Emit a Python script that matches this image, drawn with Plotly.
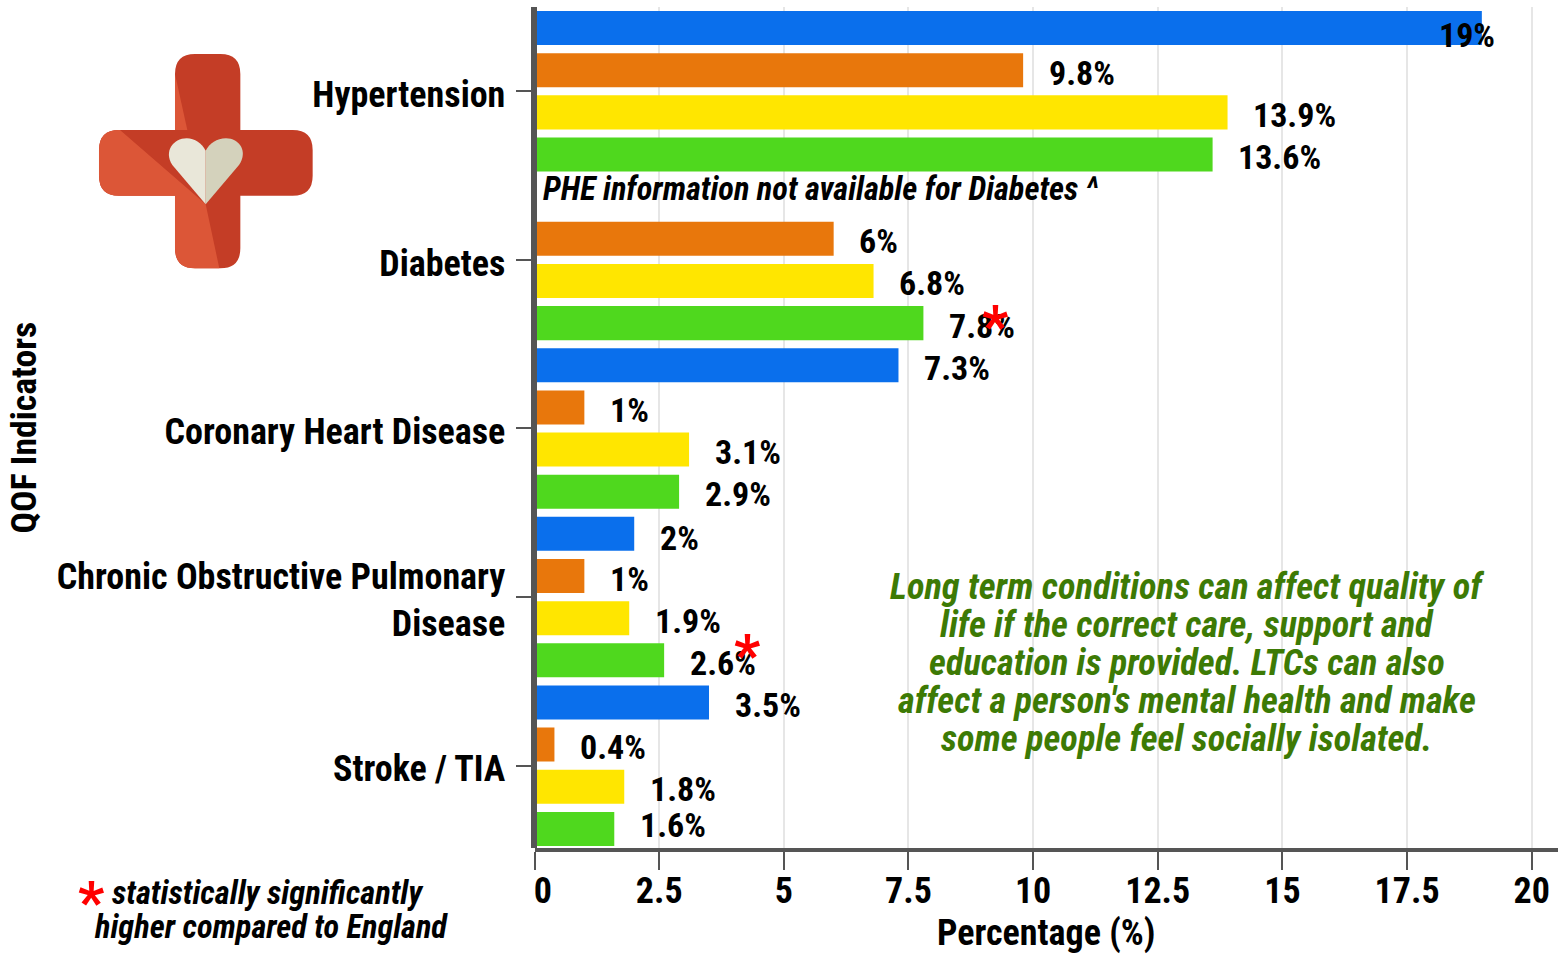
import plotly.graph_objects as go

W, H = 1558, 955
FONT = "Roboto Condensed, Liberation Sans Narrow, Roboto, sans-serif"

categories = ["Hypertension", "Diabetes", "Coronary Heart Disease",
              "Chronic Obstructive Pulmonary<br>Disease", "Stroke / TIA"]
blue_values = [19, None, 7.3, 2, 3.5]
orange_values = [9.8, 6, 1, 1, 0.4]
yellow_values = [13.9, 6.8, 3.1, 1.9, 1.8]
green_values = [13.6, 7.8, 2.9, 2.6, 1.6]
x_ticks = [0, 2.5, 5, 7.5, 10, 12.5, 15, 17.5, 20]
x_tick_labels = ["\u00a0\u00a00", "2.5", "5", "7.5", "10", "12.5", "15", "17.5", "20"]
note_lines = ["Long term conditions can affect quality of", "life if the correct care, support and",
              "education is provided. LTCs can also", "affect a person's mental health and make",
              "some people feel socially isolated."]

series = [("Blue", blue_values, "#0a6fec"), ("Orange", orange_values, "#e8770c"),
          ("Yellow", yellow_values, "#ffe600"), ("Green", green_values, "#4fd81e")]
SLOT = 42.15
LABEL_NUDGE = {("Blue", "Hypertension"): 4, ("Blue", "Chronic Obstructive Pulmonary<br>Disease"): 2,
               ("Green", "Stroke / TIA"): -6}

fig = go.Figure()
for name, vals, col in series:
    fig.add_trace(go.Bar(y=categories, x=vals, name=name, orientation="h",
                         marker=dict(color=col, line=dict(width=0)), showlegend=False))

anns = []
for i, (name, vals, col) in enumerate(series):
    for cat, v in zip(categories, vals):
        if v is None:
            continue
        nudge = LABEL_NUDGE.get((name, cat), 0)
        anns.append(dict(x=v, y=cat, xref="x", yref="y", text=f"<b>{v:g}%</b>", showarrow=False,
                         xanchor="left", yanchor="middle", xshift=-45 if v >= 19 else 23.5,
                         yshift=-(i - 1.5) * SLOT - 2.5 - nudge,
                         font=dict(family=FONT, size=34, color="#000")))

def px(x, y, text, size, color="#000", italic=False, anchor="center"):
    t = f"<b>{text}</b>"
    if italic:
        t = f"<i>{t}</i>"
    anns.append(dict(x=x / W, y=1 - y / H, xref="paper", yref="paper", text=t, showarrow=False, xanchor=anchor,
                     yanchor="middle", font=dict(family=FONT, size=size, color=color), align="center"))

px(541, 189, "PHE information not available for Diabetes ^", 32.4, italic=True, anchor="left")
for k, line in enumerate(note_lines):
    px(1186.5, 586 + 38 * k, line, 36.4, color="#3d7a05", italic=True)
px(110, 893, "statistically significantly", 32.5, italic=True, anchor="left")
px(92, 927, "higher compared to England", 32.4, italic=True, anchor="left")
px(995, 326, "*", 58, color="#ff0000")
px(747, 655, "*", 58, color="#ff0000")
px(91, 902, "*", 58, color="#ff0000")

def lz(zx, zy):
    return f"{(60 + zx / 3) / W:.5f},{1 - (30 + zy / 3) / H:.5f}"

def path(parts):
    out = []
    for cmd, *pts in parts:
        out.append(cmd + " ".join(lz(*p) for p in pts))
    return " ".join(out) + " Z"

cross = path([("M", (405, 72)), ("L", (481, 72)), ("Q", (541, 72), (541, 132)), ("L", (541, 300)),
              ("L", (698, 300)), ("Q", (758, 300), (758, 360)), ("L", (758, 437)), ("Q", (758, 497), (698, 497)),
              ("L", (541, 497)), ("L", (541, 655)), ("Q", (541, 715), (481, 715)), ("L", (405, 715)),
              ("Q", (345, 715), (345, 655)), ("L", (345, 497)), ("L", (177, 497)), ("Q", (117, 497), (117, 437)),
              ("L", (117, 360)), ("Q", (117, 300), (177, 300)), ("L", (345, 300)), ("L", (345, 132)),
              ("Q", (345, 72), (405, 72))])
light = path([("M", (180, 300)), ("L", (437, 523)), ("L", (478, 715)), ("L", (405, 715)),
              ("Q", (345, 715), (345, 655)), ("L", (345, 497)), ("L", (177, 497)), ("Q", (117, 497), (117, 437)),
              ("L", (117, 360)), ("Q", (117, 300), (177, 300))])
sliver = path([("M", (345, 132)), ("L", (382, 300)), ("L", (345, 300))])
heart_l = path([("M", (437, 523)), ("L", (337, 405)), ("C", (310, 365), (340, 325), (380, 325)),
                ("C", (405, 325), (425, 340), (437, 362))])
heart_r = path([("M", (437, 523)), ("L", (537, 405)), ("C", (565, 365), (538, 325), (498, 325)),
                ("C", (470, 325), (449, 340), (437, 362))])
shapes = [dict(type="path", path=p, xref="paper", yref="paper", fillcolor=c, line=dict(width=0), layer="above")
          for p, c in [(cross, "#c43d26"), (light, "#dc5637"), (sliver, "#dc5637"),
                       (heart_l, "#e9e7d9"), (heart_r, "#d4d2bc")]]

fig.update_layout(
    width=W, height=H, margin=dict(l=0, r=0, t=0, b=0), autosize=False,
    paper_bgcolor="#fff", plot_bgcolor="#fff", barmode="group", bargap=0, bargroupgap=0.193,
    font=dict(family=FONT, color="#000"), annotations=anns, shapes=shapes,
    xaxis=dict(domain=[534.5 / W, 1], range=[0, (W - 534.5) / 49.86], tickvals=x_ticks, ticktext=x_tick_labels,
               ticks="outside", ticklen=18, tickwidth=1.5, tickcolor="#555", showline=True, linewidth=3.5,
               linecolor="#555", gridcolor="#e6e6e6", gridwidth=2, zeroline=False, ticklabelstandoff=-10,
               tickfont=dict(family=FONT, size=36, color="#000", weight=700),
               title=dict(text="<b>Percentage (%)</b>", standoff=4, font=dict(family=FONT, size=36, color="#000")),
               automargin=False),
    yaxis=dict(domain=[1 - 848.3 / H, 1 - 7 / H], range=[4.49, -0.5], type="category",
               anchor="free", position=534.3 / W,
               ticks="outside", ticklen=16, tickwidth=1.5, tickcolor="#555", showline=True, linewidth=5.5,
               linecolor="#555", showgrid=False, zeroline=False, ticklabelstandoff=3, ticklabelshift=-3,
               tickfont=dict(family=FONT, size=36, color="#000", weight=700),
               title=dict(text="<b>QOF Indicators</b>", standoff=8, font=dict(family=FONT, size=35.7, color="#000")),
               automargin=False),
)
fig.write_html("out.html", post_script="document.body.style.margin='0';", config={"displayModeBar": False})
